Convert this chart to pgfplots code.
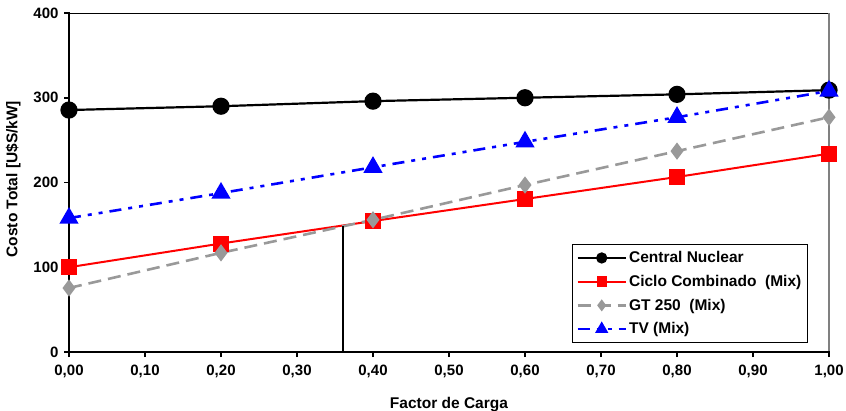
\documentclass[border=0pt]{standalone}
\usepackage{fontspec}
\setmainfont{Liberation Sans}
\usepackage{pgfplots}
\pgfplotsset{compat=1.18}
\begin{document}
\begin{tikzpicture}
\useasboundingbox (-69bp,-59bp) rectangle (777bp,352bp);
\begin{axis}[
  scale only axis,
  width=760bp, height=339bp,
  xmin=0, xmax=1, ymin=0, ymax=400,
  xtick={0,0.1,...,1.01},
  ytick={0,100,200,300,400},
  xtick pos=left, ytick pos=left,
  tick align=outside,
  major tick length=5bp,
  tick style={black, line width=1.6bp},
  axis line style={draw=none},
  /pgf/number format/assume math mode=true,
  xticklabel style={/pgf/number format/.cd, fixed, fixed zerofill, precision=2, use comma, /tikz/.cd, yshift=-5bp},
  yticklabel style={xshift=-2bp},
  tick label style={font=\fontsize{15bp}{17bp}\selectfont\bfseries},
  label style={font=\fontsize{15.5bp}{17bp}\selectfont\bfseries},
  xlabel={Factor de Carga},
  ylabel={Costo Total [U\$S/kW]},
  xlabel style={at={(rel axis cs:0.5,0)}, anchor=north, yshift=-42bp},
  ylabel style={at={(rel axis cs:0,0.51)}, anchor=south, yshift=45bp},
  legend style={at={(rel axis cs:0.972,0.027)}, anchor=south east,
    draw=black, line width=0.8bp, font=\fontsize{15.5bp}{17bp}\selectfont\bfseries,
    row sep=7bp, inner xsep=4bp, inner ysep=5bp},
  legend cell align=left,
  legend image code/.code={
    \draw[mark repeat=2,mark phase=2,#1,/tikz/every mark/.append style={scale=0.6}] plot coordinates {(0cm,0cm) (0.85cm,0cm) (1.7cm,0cm)};},
  clip=false,
]
\addplot[black, line width=2.2bp, mark=*, mark size=7.5bp, mark options={solid, fill=black}]
  coordinates {(0,285.5)(0.2,290)(0.4,296)(0.6,300)(0.8,304)(1.0,309)};
\addlegendentry{Central Nuclear}
\addplot[red, line width=2bp, mark=square*, mark size=7bp, mark options={solid, fill=red}]
  coordinates {(0,100)(0.2,128)(0.4,154.5)(0.6,180.5)(0.8,206.5)(1.0,234)};
\addlegendentry{Ciclo Combinado\ \ (Mix)}
\addplot[gray!80, line width=2.6bp, dash pattern=on 13bp off 7bp, mark=diamond*, mark size=6.5bp, mark options={solid, fill=gray!80, draw=gray!80}]
  coordinates {(0,75.5)(0.2,117)(0.4,156)(0.6,197)(0.8,237)(1.0,277)};
\addlegendentry{GT 250\ \ (Mix)}
\addplot[blue, line width=2.6bp, dash pattern=on 12bp off 7bp on 4bp off 7bp on 4bp off 7bp, mark=triangle*, mark size=8.5bp, mark options={solid, fill=blue}]
  coordinates {(0,158)(0.2,187.5)(0.4,218)(0.6,248)(0.8,277)(1.0,308)};
\addlegendentry{TV (Mix)}
\addplot[black, line width=2bp, forget plot] coordinates {(0.36,0)(0.36,149)};
\draw[black, line width=0.8bp] (rel axis cs:0,1) -- (rel axis cs:1,1);
\draw[gray, line width=1.2bp] (rel axis cs:1,0) -- (rel axis cs:1,1);
\draw[black, line width=2bp, line cap=rect] (rel axis cs:0,1) -- (rel axis cs:0,0) -- (rel axis cs:1,0);
\end{axis}
\end{tikzpicture}
\end{document}
